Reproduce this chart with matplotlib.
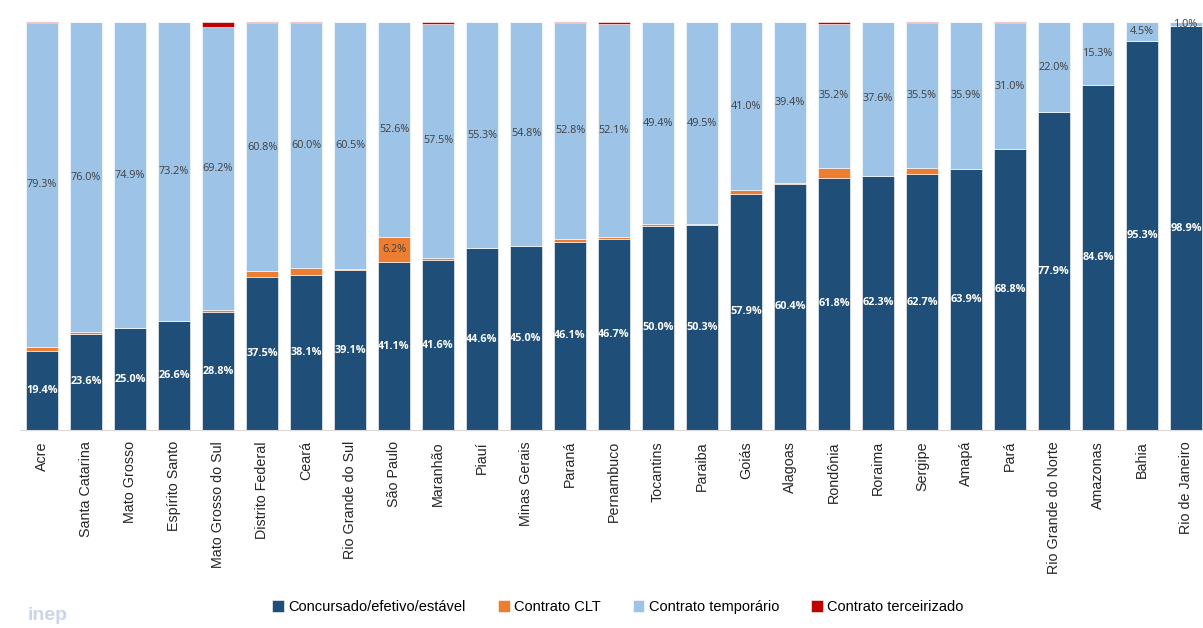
import numpy as np
import matplotlib.pyplot as plt
from matplotlib import font_manager

states = ["Acre", "Santa Catarina", "Mato Grosso", "Espírito Santo", "Mato Grosso do Sul",
          "Distrito Federal", "Ceará", "Rio Grande do Sul", "São Paulo", "Maranhão", "Piauí",
          "Minas Gerais", "Paraná", "Pernambuco", "Tocantins", "Paraiba", "Goiás", "Alagoas",
          "Rondônia", "Roraima", "Sergipe", "Amapá", "Pará", "Rio Grande do Norte",
          "Amazonas", "Bahia", "Rio de Janeiro"]
concursado = [19.4, 23.6, 25.0, 26.6, 28.8, 37.5, 38.1, 39.1, 41.1, 41.6, 44.6, 45.0, 46.1, 46.7,
              50.0, 50.3, 57.9, 60.4, 61.8, 62.3, 62.7, 63.9, 68.8, 77.9, 84.6, 95.3, 98.9]
clt = [1.0, 0.3, 0.05, 0.1, 0.7, 1.4, 1.6, 0.3, 6.2, 0.5, 0.05, 0.15, 0.8, 0.6,
       0.5, 0.1, 1.0, 0.1, 2.5, 0.05, 1.6, 0.1, 0.0, 0.05, 0.05, 0.1, 0.0]
temporario = [79.3, 76.0, 74.9, 73.2, 69.2, 60.8, 60.0, 60.5, 52.6, 57.5, 55.3, 54.8, 52.8, 52.1,
              49.4, 49.5, 41.0, 39.4, 35.2, 37.6, 35.5, 35.9, 31.0, 22.0, 15.3, 4.5, 1.0]
terceirizado = [0.3, 0.1, 0.05, 0.1, 1.3, 0.3, 0.3, 0.1, 0.1, 0.4, 0.05, 0.05, 0.3, 0.6,
                0.1, 0.1, 0.1, 0.1, 0.5, 0.05, 0.2, 0.1, 0.2, 0.05, 0.05, 0.1, 0.1]
series_names = ["Concursado/efetivo/estável", "Contrato CLT", "Contrato temporário",
                "Contrato terceirizado"]
colors = ["#1F4E79", "#ED7D31", "#9DC3E6", "#C00000"]

# narrow font for the legend if available
installed = {f.name for f in font_manager.fontManager.ttflist}
legend_family = "Liberation Sans Narrow" if "Liberation Sans Narrow" in installed else "Liberation Sans"
legend_size = 12 if legend_family == "Liberation Sans Narrow" else 10.5

fig = plt.figure(figsize=(12.03, 6.28), dpi=100)
ax = fig.add_axes([20 / 1203, (628 - 430) / 628, 1188 / 1203, 408 / 628])

x = np.arange(len(states))
width = 0.72
bottom = np.zeros(len(states))
for vals, name, c in zip([concursado, clt, temporario, terceirizado], series_names, colors):
    vals = np.array(vals)
    ax.bar(x, vals, width, bottom=bottom, color=c, label=name,
           edgecolor="white", linewidth=0.4)
    bottom = bottom + vals

# data labels
cl = np.array(clt)
for i in x:
    ax.text(i, concursado[i] / 2, f"{concursado[i]:.1f}%", ha="center", va="center",
            color="white", fontsize=7.8, fontweight="bold", family="Open Sans")
    base = concursado[i] + cl[i]
    ax.text(i, base + temporario[i] / 2, f"{temporario[i]:.1f}%", ha="center", va="center",
            color="#404040", fontsize=7.8, family="Open Sans")
    if cl[i] > 3:
        ax.text(i, concursado[i] + cl[i] / 2, f"{cl[i]:.1f}%", ha="center", va="center",
                color="#404040", fontsize=7.8, family="Open Sans")

ax.set_xlim(-0.5, len(states) - 0.5)
ax.set_ylim(0, 100)
ax.set_yticks([])
for s in ["top", "right", "left"]:
    ax.spines[s].set_visible(False)
ax.spines["bottom"].set_color("#D9D9D9")
ax.set_xticks(x)
ax.set_xticklabels(states, rotation=90, fontsize=10.3, family="Liberation Sans", color="#262626")
ax.tick_params(axis="x", length=0, pad=8)

handles, labels = ax.get_legend_handles_labels()
fig.legend(handles, labels, loc="center", bbox_to_anchor=(618 / 1203, 1 - 607 / 628), ncol=4,
           frameon=False, prop={"family": legend_family, "size": legend_size},
           handlelength=0.8, handleheight=0.8, handletextpad=0.3, columnspacing=2.2)

fig.text(28 / 1203, 1 - 620 / 628, "inep", fontsize=14, fontweight="bold",
         color="#C9D6E8", family="Liberation Sans")

fig.savefig("out.png", dpi=100)
